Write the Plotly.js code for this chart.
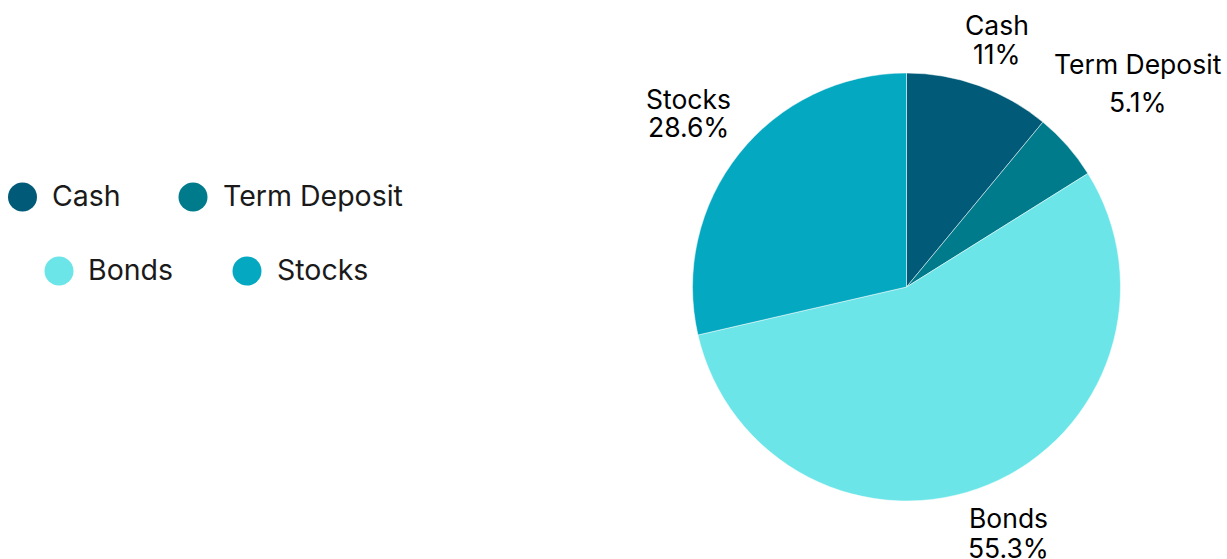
<!DOCTYPE html>
<html>
<head>
<meta charset="utf-8">
<script src="https://cdn.plot.ly/plotly-3.0.1.min.js"></script>
<style>html,body{margin:0;padding:0;background:#fff;}#chart{width:1227px;height:559px;}</style>
</head>
<body>
<div id="chart"></div>
<script>
const categories = ["Cash", "Term Deposit", "Bonds", "Stocks"];
const values = [11, 5.1, 55.3, 28.6];
const percentLabels = ["11%", "5.1%", "55.3%", "28.6%"];
const colors = ["#015a78", "#007b8b", "#6be5e8", "#04a8c1"];

const W = 1227, H = 559;
const px = x => x / W;
const py = y => 1 - y / H;

const cx = 906.5, cy = 287, r = 214;

const trace = {
  type: "pie",
  labels: categories,
  values: values,
  sort: false,
  direction: "clockwise",
  rotation: 0,
  marker: {colors: colors, line: {color: "#ffffff", width: 0.5}},
  textinfo: "none",
  showlegend: false,
  hoverinfo: "label+percent",
  domain: {x: [px(cx - r), px(cx + r)], y: [py(cy + r), py(cy - r)]}
};

// outside slice labels: name line and percent line
const labelPos = [
  {x: 996.5, y1: 24.5, y2: 53.5},
  {x: 1138, y1: 64, y2: 102},
  {x: 1008, y1: 517.5, y2: 548},
  {x: 688, y1: 98.5, y2: 127}
];
const labelFont = {family: "Inter, sans-serif", size: 26.5, color: "#000"};

// custom legend (circles + labels)
const legendPos = [
  {cx: 22.5, cy: 197, tx: 52},
  {cx: 193, cy: 197, tx: 223},
  {cx: 59, cy: 271, tx: 88},
  {cx: 247, cy: 271, tx: 277}
];
const rad = 14.5;
const shapes = legendPos.map((p, i) => ({
  type: "circle", xref: "paper", yref: "paper",
  x0: px(p.cx - rad), x1: px(p.cx + rad), y0: py(p.cy + rad), y1: py(p.cy - rad),
  fillcolor: colors[i], line: {width: 0}
}));
const annotations = [];
legendPos.forEach((p, i) => annotations.push({
  xref: "paper", yref: "paper", x: px(p.tx - 2), y: py(p.cy - 1.5),
  xanchor: "left", yanchor: "middle", showarrow: false,
  text: categories[i],
  font: {family: "Inter, sans-serif", size: 28.5, color: "#1a1a1a"}
}));
labelPos.forEach((p, i) => {
  annotations.push({
    xref: "paper", yref: "paper", x: px(p.x), y: py(p.y1),
    xanchor: "center", yanchor: "middle", showarrow: false,
    text: categories[i], font: labelFont
  });
  annotations.push({
    xref: "paper", yref: "paper", x: px(p.x), y: py(p.y2),
    xanchor: "center", yanchor: "middle", showarrow: false,
    text: percentLabels[i], font: labelFont
  });
});

const layout = {
  width: W, height: H,
  margin: {l: 0, r: 0, t: 0, b: 0},
  paper_bgcolor: "#ffffff",
  showlegend: false,
  shapes: shapes,
  annotations: annotations
};

Plotly.newPlot("chart", [trace], layout, {displayModeBar: false, staticPlot: true});
</script>
</body>
</html>
